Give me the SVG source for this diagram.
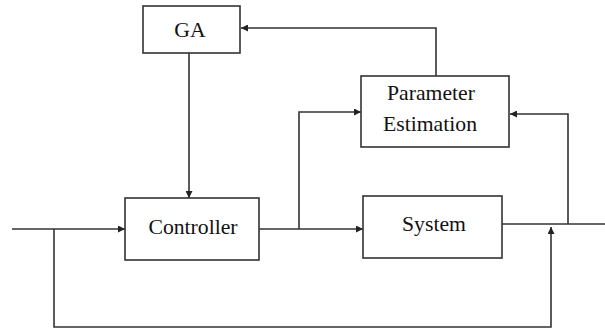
<svg xmlns="http://www.w3.org/2000/svg" width="605" height="333" viewBox="0 0 605 333">
<defs>
<marker id="arr" viewBox="0 0 10 10" refX="10" refY="5" markerWidth="8" markerHeight="7" markerUnits="userSpaceOnUse" orient="auto">
<path d="M0,0 L10,5 L0,10 z" fill="#222"/>
</marker>
</defs>
<style>
.box{fill:#fff;stroke:#333;stroke-width:1.6}
.lbl{font-family:"Liberation Serif","Times New Roman",serif;font-size:21.7px;fill:#111;text-anchor:middle}
.ln{fill:none;stroke:#333;stroke-width:1.6}
</style>
<rect width="605" height="333" fill="#fff"/>
<g id="connectors">
<path class="ln" d="M436,76 V28 H241" marker-end="url(#arr)"/>
<path class="ln" d="M189,53 V198" marker-end="url(#arr)"/>
<path class="ln" d="M12,229 H125" marker-end="url(#arr)"/>
<path class="ln" d="M259,229 H363" marker-end="url(#arr)"/>
<path class="ln" d="M299,229 V112 H361" marker-end="url(#arr)"/>
<path class="ln" d="M502,224 H605"/>
<path class="ln" d="M568,224 V114 H510" marker-end="url(#arr)"/>
<path class="ln" d="M54,229 V327 H551 V227" marker-end="url(#arr)"/>
</g>
<g id="ga">
<rect class="box" x="143" y="6" width="97" height="47"/>
<text class="lbl" x="190" y="37">GA</text>
</g>
<g id="param">
<rect class="box" x="361" y="76" width="148" height="71"/>
<text class="lbl" x="431" y="100">Parameter</text>
<text class="lbl" x="430" y="131">Estimation</text>
</g>
<g id="controller">
<rect class="box" x="125" y="198" width="134" height="62"/>
<text class="lbl" x="193" y="234">Controller</text>
</g>
<g id="system">
<rect class="box" x="363" y="196" width="139" height="62"/>
<text class="lbl" x="434" y="231">System</text>
</g>
</svg>
